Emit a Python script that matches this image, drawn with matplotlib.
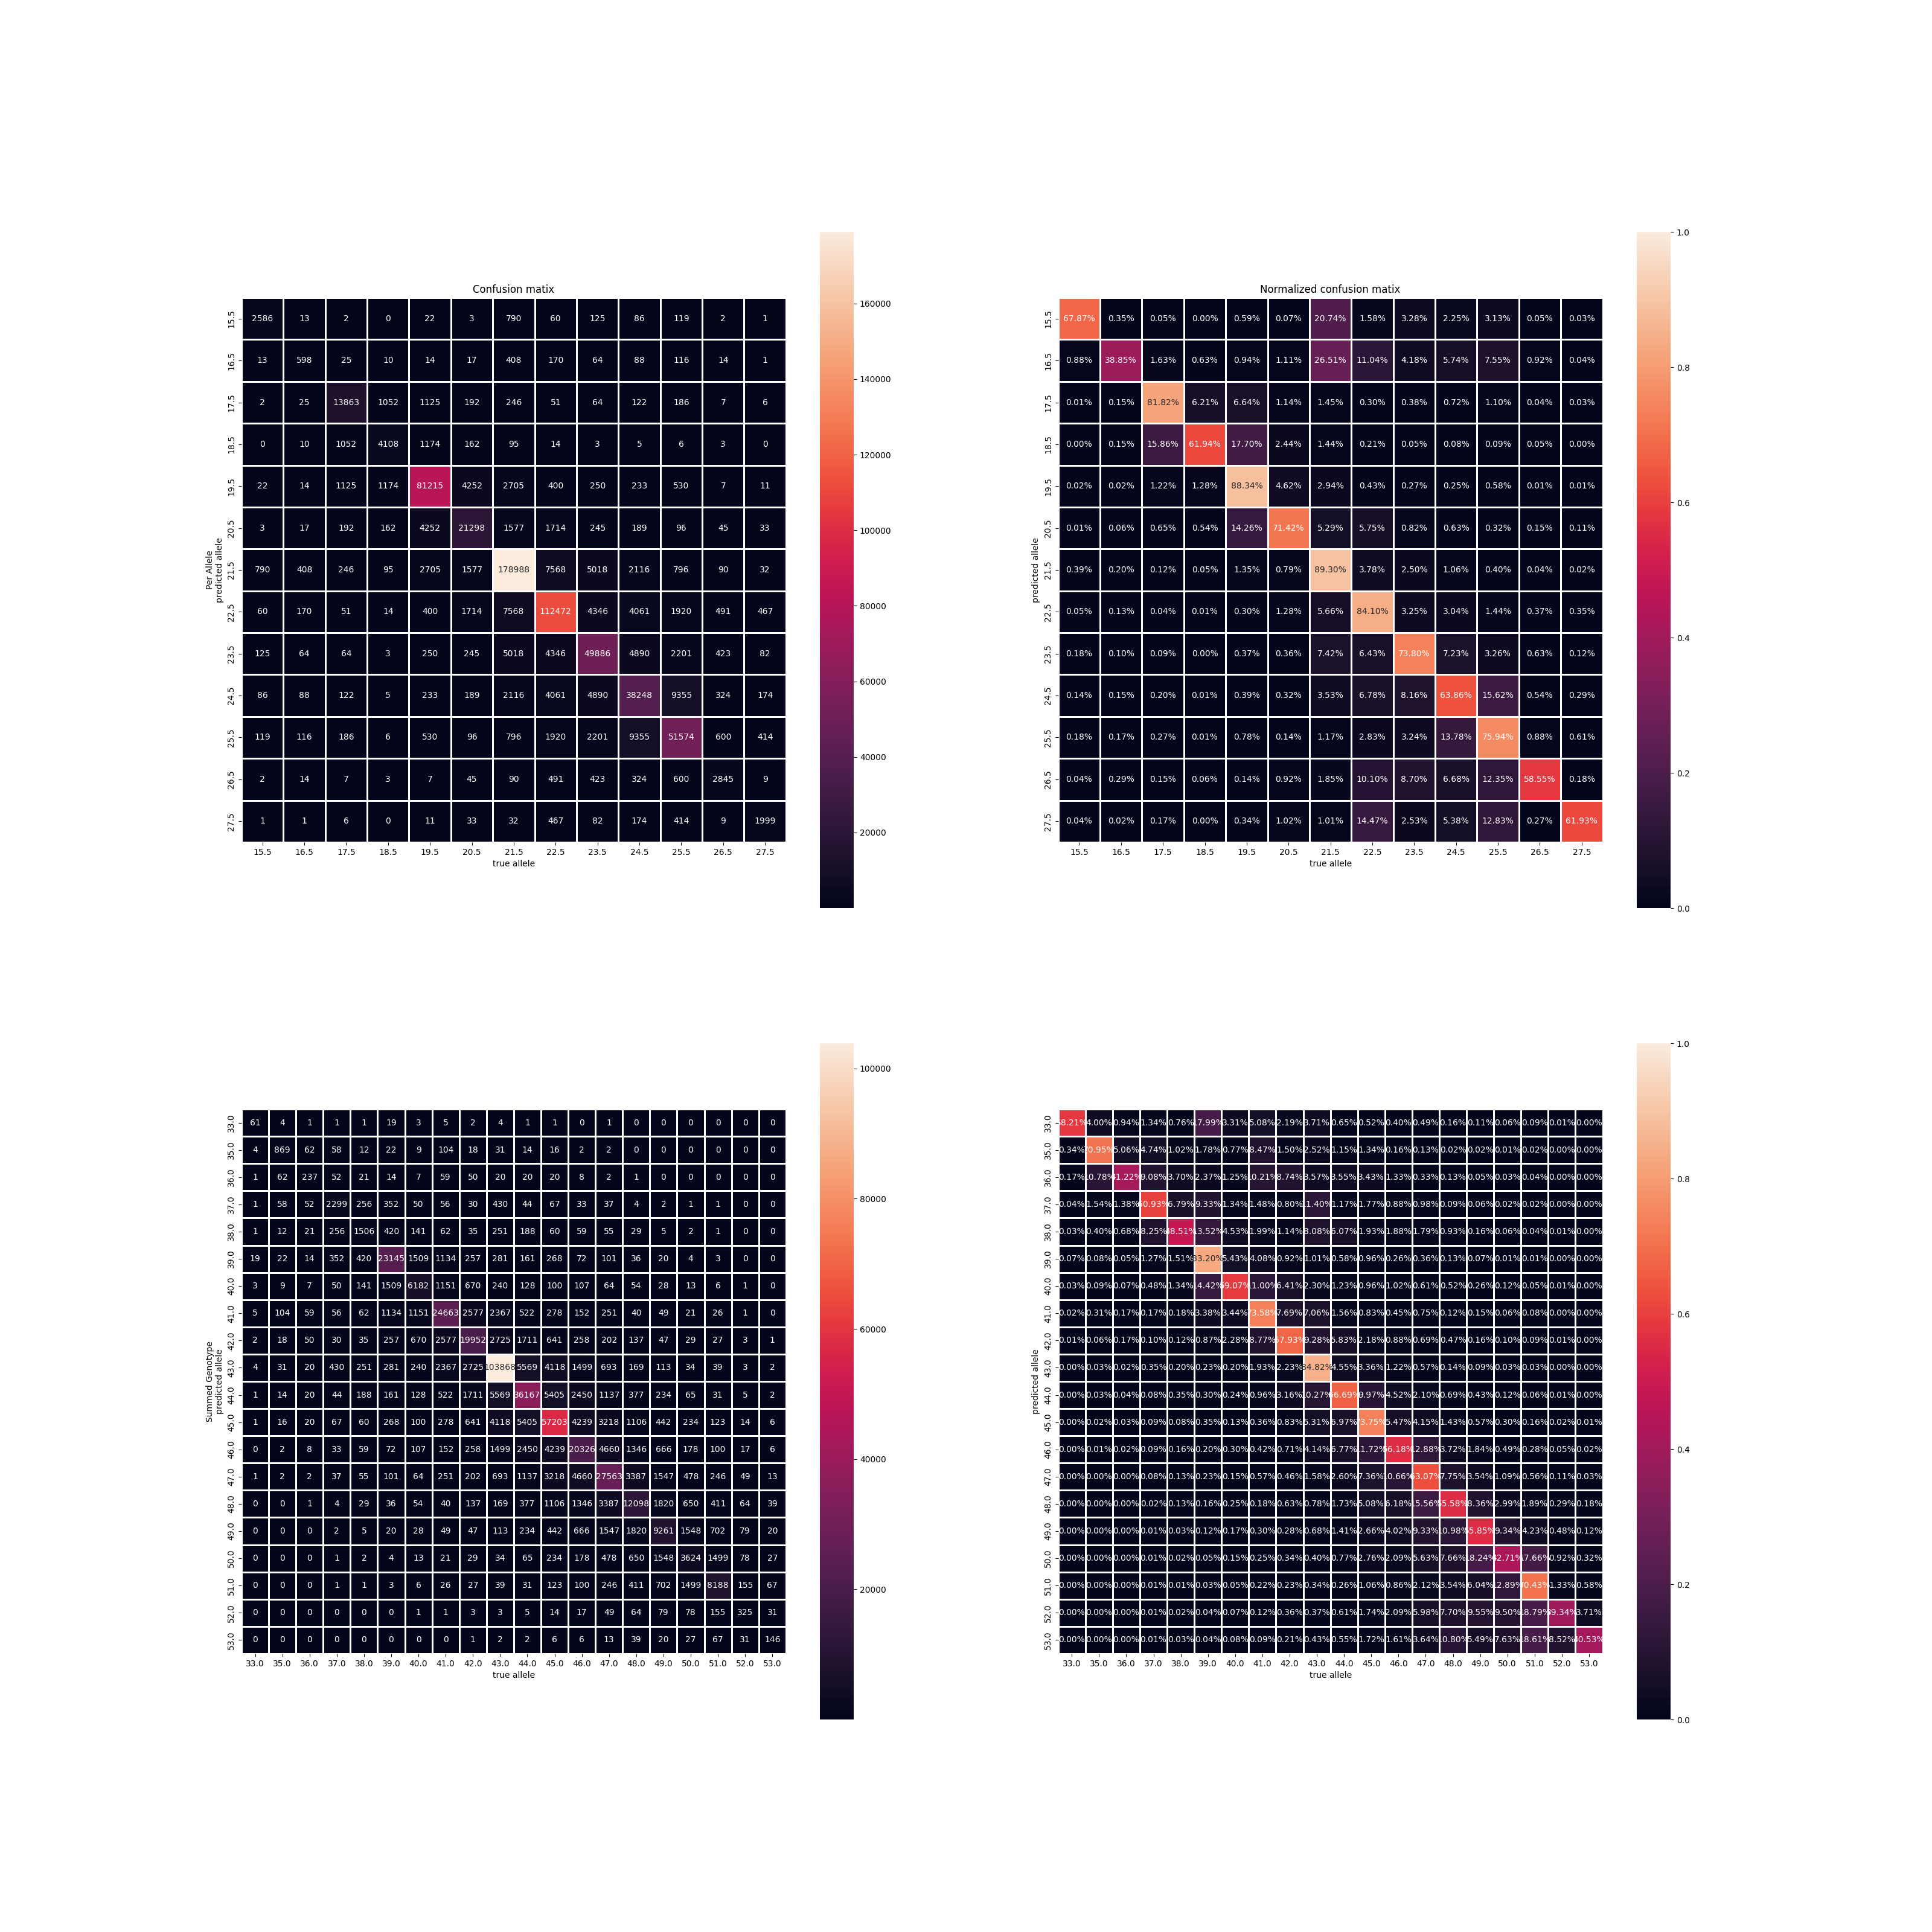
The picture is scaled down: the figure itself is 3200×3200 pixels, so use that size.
import matplotlib
matplotlib.use("Agg")
import matplotlib.pyplot as plt
import numpy as np
import seaborn as sns

# --- per allele -----------------------------------------------------------
allele_labels = ["15.5", "16.5", "17.5", "18.5", "19.5", "20.5", "21.5",
                 "22.5", "23.5", "24.5", "25.5", "26.5", "27.5"]

allele_counts = [
    [2586, 13, 2, 0, 22, 3, 790, 60, 125, 86, 119, 2, 1],
    [13, 598, 25, 10, 14, 17, 408, 170, 64, 88, 116, 14, 1],
    [2, 25, 13863, 1052, 1125, 192, 246, 51, 64, 122, 186, 7, 6],
    [0, 10, 1052, 4108, 1174, 162, 95, 14, 3, 5, 6, 3, 0],
    [22, 14, 1125, 1174, 81215, 4252, 2705, 400, 250, 233, 530, 7, 11],
    [3, 17, 192, 162, 4252, 21298, 1577, 1714, 245, 189, 96, 45, 33],
    [790, 408, 246, 95, 2705, 1577, 178988, 7568, 5018, 2116, 796, 90, 32],
    [60, 170, 51, 14, 400, 1714, 7568, 112472, 4346, 4061, 1920, 491, 467],
    [125, 64, 64, 3, 250, 245, 5018, 4346, 49886, 4890, 2201, 423, 82],
    [86, 88, 122, 5, 233, 189, 2116, 4061, 4890, 38248, 9355, 324, 174],
    [119, 116, 186, 6, 530, 96, 796, 1920, 2201, 9355, 51574, 600, 414],
    [2, 14, 7, 3, 7, 45, 90, 491, 423, 324, 600, 2845, 9],
    [1, 1, 6, 0, 11, 33, 32, 467, 82, 174, 414, 9, 1999],
]

# row-normalised, in percent
allele_pct = [
    [67.87, 0.35, 0.05, 0.00, 0.59, 0.07, 20.74, 1.58, 3.28, 2.25, 3.13, 0.05, 0.03],
    [0.88, 38.85, 1.63, 0.63, 0.94, 1.11, 26.51, 11.04, 4.18, 5.74, 7.55, 0.92, 0.04],
    [0.01, 0.15, 81.82, 6.21, 6.64, 1.14, 1.45, 0.30, 0.38, 0.72, 1.10, 0.04, 0.03],
    [0.00, 0.15, 15.86, 61.94, 17.70, 2.44, 1.44, 0.21, 0.05, 0.08, 0.09, 0.05, 0.00],
    [0.02, 0.02, 1.22, 1.28, 88.34, 4.62, 2.94, 0.43, 0.27, 0.25, 0.58, 0.01, 0.01],
    [0.01, 0.06, 0.65, 0.54, 14.26, 71.42, 5.29, 5.75, 0.82, 0.63, 0.32, 0.15, 0.11],
    [0.39, 0.20, 0.12, 0.05, 1.35, 0.79, 89.30, 3.78, 2.50, 1.06, 0.40, 0.04, 0.02],
    [0.05, 0.13, 0.04, 0.01, 0.30, 1.28, 5.66, 84.10, 3.25, 3.04, 1.44, 0.37, 0.35],
    [0.18, 0.10, 0.09, 0.00, 0.37, 0.36, 7.42, 6.43, 73.80, 7.23, 3.26, 0.63, 0.12],
    [0.14, 0.15, 0.20, 0.01, 0.39, 0.32, 3.53, 6.78, 8.16, 63.86, 15.62, 0.54, 0.29],
    [0.18, 0.17, 0.27, 0.01, 0.78, 0.14, 1.17, 2.83, 3.24, 13.78, 75.94, 0.88, 0.61],
    [0.04, 0.29, 0.15, 0.06, 0.14, 0.92, 1.85, 10.10, 8.70, 6.68, 12.35, 58.55, 0.18],
    [0.04, 0.02, 0.17, 0.00, 0.34, 1.02, 1.01, 14.47, 2.53, 5.38, 12.83, 0.27, 61.93],
]

# --- summed genotype ------------------------------------------------------
geno_labels = ["33.0", "35.0", "36.0", "37.0", "38.0", "39.0", "40.0", "41.0",
               "42.0", "43.0", "44.0", "45.0", "46.0", "47.0", "48.0", "49.0",
               "50.0", "51.0", "52.0", "53.0"]

geno_counts = [
    [61, 4, 1, 1, 1, 19, 3, 5, 2, 4, 1, 1, 0, 1, 0, 0, 0, 0, 0, 0],
    [4, 869, 62, 58, 12, 22, 9, 104, 18, 31, 14, 16, 2, 2, 0, 0, 0, 0, 0, 0],
    [1, 62, 237, 52, 21, 14, 7, 59, 50, 20, 20, 20, 8, 2, 1, 0, 0, 0, 0, 0],
    [1, 58, 52, 2299, 256, 352, 50, 56, 30, 430, 44, 67, 33, 37, 4, 2, 1, 1, 0, 0],
    [1, 12, 21, 256, 1506, 420, 141, 62, 35, 251, 188, 60, 59, 55, 29, 5, 2, 1, 0, 0],
    [19, 22, 14, 352, 420, 23145, 1509, 1134, 257, 281, 161, 268, 72, 101, 36, 20, 4, 3, 0, 0],
    [3, 9, 7, 50, 141, 1509, 6182, 1151, 670, 240, 128, 100, 107, 64, 54, 28, 13, 6, 1, 0],
    [5, 104, 59, 56, 62, 1134, 1151, 24663, 2577, 2367, 522, 278, 152, 251, 40, 49, 21, 26, 1, 0],
    [2, 18, 50, 30, 35, 257, 670, 2577, 19952, 2725, 1711, 641, 258, 202, 137, 47, 29, 27, 3, 1],
    [4, 31, 20, 430, 251, 281, 240, 2367, 2725, 103868, 5569, 4118, 1499, 693, 169, 113, 34, 39, 3, 2],
    [1, 14, 20, 44, 188, 161, 128, 522, 1711, 5569, 36167, 5405, 2450, 1137, 377, 234, 65, 31, 5, 2],
    [1, 16, 20, 67, 60, 268, 100, 278, 641, 4118, 5405, 57203, 4239, 3218, 1106, 442, 234, 123, 14, 6],
    [0, 2, 8, 33, 59, 72, 107, 152, 258, 1499, 2450, 4239, 20326, 4660, 1346, 666, 178, 100, 17, 6],
    [1, 2, 2, 37, 55, 101, 64, 251, 202, 693, 1137, 3218, 4660, 27563, 3387, 1547, 478, 246, 49, 13],
    [0, 0, 1, 4, 29, 36, 54, 40, 137, 169, 377, 1106, 1346, 3387, 12098, 1820, 650, 411, 64, 39],
    [0, 0, 0, 2, 5, 20, 28, 49, 47, 113, 234, 442, 666, 1547, 1820, 9261, 1548, 702, 79, 20],
    [0, 0, 0, 1, 2, 4, 13, 21, 29, 34, 65, 234, 178, 478, 650, 1548, 3624, 1499, 78, 27],
    [0, 0, 0, 1, 1, 3, 6, 26, 27, 39, 31, 123, 100, 246, 411, 702, 1499, 8188, 155, 67],
    [0, 0, 0, 0, 0, 0, 1, 1, 3, 3, 5, 14, 17, 49, 64, 79, 78, 155, 325, 31],
    [0, 0, 0, 0, 0, 0, 0, 0, 1, 2, 2, 6, 6, 13, 39, 20, 27, 67, 31, 146],
]

geno_pct = [
    [58.21, 4.00, 0.94, 1.34, 0.76, 17.99, 3.31, 5.08, 2.19, 3.71, 0.65, 0.52, 0.40, 0.49, 0.16, 0.11, 0.06, 0.09, 0.01, 0.00],
    [0.34, 70.95, 5.06, 4.74, 1.02, 1.78, 0.77, 8.47, 1.50, 2.52, 1.15, 1.34, 0.16, 0.13, 0.02, 0.02, 0.01, 0.02, 0.00, 0.00],
    [0.17, 10.78, 41.22, 9.08, 3.70, 2.37, 1.25, 10.21, 8.74, 3.57, 3.55, 3.43, 1.33, 0.33, 0.13, 0.05, 0.03, 0.04, 0.00, 0.00],
    [0.04, 1.54, 1.38, 60.93, 6.79, 9.33, 1.34, 1.48, 0.80, 11.40, 1.17, 1.77, 0.88, 0.98, 0.09, 0.06, 0.02, 0.02, 0.00, 0.00],
    [0.03, 0.40, 0.68, 8.25, 48.51, 13.52, 4.53, 1.99, 1.14, 8.08, 6.07, 1.93, 1.88, 1.79, 0.93, 0.16, 0.06, 0.04, 0.01, 0.00],
    [0.07, 0.08, 0.05, 1.27, 1.51, 83.20, 5.43, 4.08, 0.92, 1.01, 0.58, 0.96, 0.26, 0.36, 0.13, 0.07, 0.01, 0.01, 0.00, 0.00],
    [0.03, 0.09, 0.07, 0.48, 1.34, 14.42, 59.07, 11.00, 6.41, 2.30, 1.23, 0.96, 1.02, 0.61, 0.52, 0.26, 0.12, 0.05, 0.01, 0.00],
    [0.02, 0.31, 0.17, 0.17, 0.18, 3.38, 3.44, 73.58, 7.69, 7.06, 1.56, 0.83, 0.45, 0.75, 0.12, 0.15, 0.06, 0.08, 0.00, 0.00],
    [0.01, 0.06, 0.17, 0.10, 0.12, 0.87, 2.28, 8.77, 67.93, 9.28, 5.83, 2.18, 0.88, 0.69, 0.47, 0.16, 0.10, 0.09, 0.01, 0.00],
    [0.00, 0.03, 0.02, 0.35, 0.20, 0.23, 0.20, 1.93, 2.23, 84.82, 4.55, 3.36, 1.22, 0.57, 0.14, 0.09, 0.03, 0.03, 0.00, 0.00],
    [0.00, 0.03, 0.04, 0.08, 0.35, 0.30, 0.24, 0.96, 3.16, 10.27, 66.69, 9.97, 4.52, 2.10, 0.69, 0.43, 0.12, 0.06, 0.01, 0.00],
    [0.00, 0.02, 0.03, 0.09, 0.08, 0.35, 0.13, 0.36, 0.83, 5.31, 6.97, 73.75, 5.47, 4.15, 1.43, 0.57, 0.30, 0.16, 0.02, 0.01],
    [0.00, 0.01, 0.02, 0.09, 0.16, 0.20, 0.30, 0.42, 0.71, 4.14, 6.77, 11.72, 56.18, 12.88, 3.72, 1.84, 0.49, 0.28, 0.05, 0.02],
    [0.00, 0.00, 0.00, 0.08, 0.13, 0.23, 0.15, 0.57, 0.46, 1.58, 2.60, 7.36, 10.66, 63.07, 7.75, 3.54, 1.09, 0.56, 0.11, 0.03],
    [0.00, 0.00, 0.00, 0.02, 0.13, 0.16, 0.25, 0.18, 0.63, 0.78, 1.73, 5.08, 6.18, 15.56, 55.58, 8.36, 2.99, 1.89, 0.29, 0.18],
    [0.00, 0.00, 0.00, 0.01, 0.03, 0.12, 0.17, 0.30, 0.28, 0.68, 1.41, 2.66, 4.02, 9.33, 10.98, 55.85, 9.34, 4.23, 0.48, 0.12],
    [0.00, 0.00, 0.00, 0.01, 0.02, 0.05, 0.15, 0.25, 0.34, 0.40, 0.77, 2.76, 2.09, 5.63, 7.66, 18.24, 42.71, 17.66, 0.92, 0.32],
    [0.00, 0.00, 0.00, 0.01, 0.01, 0.03, 0.05, 0.22, 0.23, 0.34, 0.26, 1.06, 0.86, 2.12, 3.54, 6.04, 12.89, 70.43, 1.33, 0.58],
    [0.00, 0.00, 0.00, 0.01, 0.02, 0.04, 0.07, 0.12, 0.36, 0.37, 0.61, 1.74, 2.09, 5.98, 7.70, 9.55, 9.50, 18.79, 39.34, 3.71],
    [0.00, 0.00, 0.00, 0.01, 0.03, 0.04, 0.08, 0.09, 0.21, 0.43, 0.55, 1.72, 1.61, 3.64, 10.80, 5.49, 7.63, 18.61, 8.52, 40.53],
]


def draw(ax, data, labels, fmt, ylabel, title=None, vmin=None, vmax=None):
    sns.heatmap(data, ax=ax, annot=True, fmt=fmt, square=True, linewidths=1,
                vmin=vmin, vmax=vmax, xticklabels=labels, yticklabels=labels)
    ax.set_xlabel("true allele")
    ax.set_ylabel(ylabel)
    if title:
        ax.set_title(title)
    plt.setp(ax.get_xticklabels(), rotation=0)
    plt.setp(ax.get_yticklabels(), rotation=90, va="center")


fig, axes = plt.subplots(2, 2, figsize=(32, 32))

# count colorbars start just above zero (no "0" tick in the original)
draw(axes[0, 0], np.array(allele_counts), allele_labels, "d",
     "Per Allele\npredicted allele", title="Confusion matix", vmin=1)
draw(axes[0, 1], np.array(allele_pct) / 100, allele_labels, ".2%",
     "predicted allele", title="Normalized confusion matix", vmin=0, vmax=1)
draw(axes[1, 0], np.array(geno_counts), geno_labels, "d",
     "Summed Genotype\npredicted allele", vmin=1)
draw(axes[1, 1], np.array(geno_pct) / 100, geno_labels, ".2%",
     "predicted allele", vmin=0, vmax=1)

plt.savefig("out.png", dpi=100)
